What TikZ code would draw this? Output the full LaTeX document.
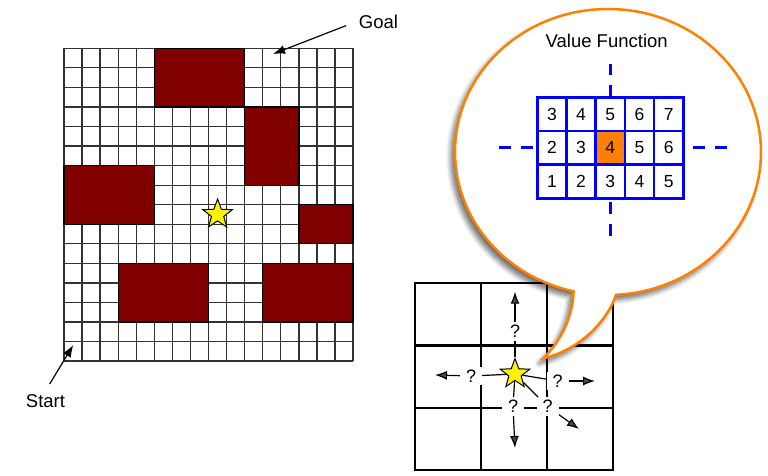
\documentclass[tikz,border=0pt]{standalone}
\usepackage{fontspec}
\setmainfont{Liberation Sans}
\usepackage{tikz}
\usepackage{xcolor}
\usetikzlibrary{arrows.meta,shapes.geometric,shadows,shadows.blur}
\definecolor{wall}{RGB}{128,0,0}
\definecolor{callout}{RGB}{255,128,0}

\begin{document}
\begin{tikzpicture}[x=1pt,y=-1pt,
  every node/.style={font=\fontsize{18.5}{20}\selectfont},
  thingrid/.style={draw=black!80,line width=1.3pt},
  thickgrid/.style={draw=black,line width=2.3pt,line cap=rect},
  wallbox/.style={fill=wall,draw=black,line width=1.3pt},
  agent/.style={star,star points=5,star point ratio=2.4,minimum size=31pt,inner sep=0pt,fill=yellow,draw=black,line width=1pt},
  pointer/.style={-{Latex[length=12pt,width=9pt]},line width=1.2pt},
  qmark/.style={fill=white,inner xsep=6pt,inner ysep=3pt,font=\fontsize{18}{19}\selectfont},
  bubble/.style={fill=white,draw=callout,line width=2.5pt,
    blur shadow={shadow xshift=-4pt,shadow yshift=-5pt,shadow blur steps=8,shadow blur radius=5pt,shadow opacity=60}},
  bluegrid/.style={draw=blue,line width=2.6pt,line cap=rect},
  axisdash/.style={draw=blue,line width=2.8pt,dash pattern=on 12pt off 10pt},
  vcell/.style={font=\fontsize{17.5}{18}\selectfont}]
\useasboundingbox (0,0) rectangle (768,476);

% grid world, 16 x 16 cells
\begin{scope}[shift={(64,48.3)},x=18.07pt,y=-19.55pt]
\foreach \i in {0,...,16} {
  \draw[thingrid] (\i,0) -- (\i,16);
  \draw[thingrid] (0,\i) -- (16,\i);
}
\draw[wallbox] (5,0) rectangle (10,3);
\draw[wallbox] (10,3) rectangle (13,7);
\draw[wallbox] (0,6) rectangle (5,9);
\draw[wallbox] (13,8) rectangle (16,10);
\draw[wallbox] (3,11) rectangle (8,14);
\draw[wallbox] (11,11) rectangle (16,14);
\node[agent] (agent) at (8.5,8.5) {};
\coordinate (goalcell) at (11.57,0.29);
\coordinate (startcell) at (0.51,15.18);
\end{scope}

\node (goal) at (378.5,22) {Goal};
\node (start) at (45.5,401) {Start};
\draw[pointer,shorten <=10pt] (goal.west) -- (goalcell);
\draw[pointer,shorten <=8pt] (start.north) -- (startcell);

% zoomed neighbourhood, 3 x 3
\begin{scope}[shift={(415,283.3)},x=66pt,y=-62.2pt]
\foreach \i in {0,...,3} {
  \draw[thickgrid] (\i,0) -- (\i,3);
  \draw[thickgrid] (0,\i) -- (3,\i);
}
\end{scope}

% callout
\filldraw[bubble] (608,152) ++(103:153 and 143)
  .. controls (573,315) and (562,340) .. (543.3,358.3)
  .. controls (580,350) and (608,320) .. (616,294.8)
  arc[start angle=87,end angle=-257,x radius=153,y radius=143] -- cycle;
\node (vftitle) at (606.7,40.7) {Value Function};

\begin{scope}[shift={(537.3,97.3)},x=29.2pt,y=-33.67pt]
\fill[callout] (2,1) rectangle (3,2);
\foreach \i in {0,...,5} \draw[bluegrid] (\i,0) -- (\i,3);
\foreach \i in {0,...,3} \draw[bluegrid] (0,\i) -- (5,\i);
\foreach \r/\vals in {0/{3,4,5,6,7},1/{2,3,4,5,6},2/{1,2,3,4,5}}
  \foreach \v [count=\c from 0] in \vals
    \node[vcell] (v\r\c) at (\c+0.5,\r+0.5) {\v};
\draw[axisdash] (2.5,0) -- (2.5,-1);
\draw[axisdash] (2.5,3.1) -- (2.5,4.2);
\draw[axisdash] (-0.14,1.5) -- (-1.36,1.5);
\draw[axisdash] (5.34,1.5) -- (6.58,1.5);
\end{scope}

% possible moves
\node[agent] (agentS) at (515,374) {};
\node[qmark] (qN) at (515,331.7) {?};
\node[qmark] (qW) at (471,376) {?};
\node[qmark] (qE) at (557.7,381) {?};
\node[qmark] (qS) at (513,406.7) {?};
\node[qmark] (qSE) at (547.7,406.7) {?};
\coordinate (tipN) at (515,291.7);
\coordinate (tipW) at (435,375);
\coordinate (tipE) at (595,381);
\coordinate (tipS) at (515,448);
\coordinate (tipSE) at (579,429);
\draw[line width=1.2pt] (agentS) -- (qN);
\draw[line width=1.2pt] (agentS) -- (qW);
\draw[line width=1.2pt] (agentS) -- (qE);
\draw[line width=1.2pt] (agentS) -- (qS);
\draw[line width=1.2pt] (agentS) -- (qSE);
\draw[pointer] (qN) -- (tipN);
\draw[pointer] (qW) -- (tipW);
\draw[pointer] (qE) -- (tipE);
\draw[pointer] (qS) -- (tipS);
\draw[pointer] (qSE) -- (tipSE);
\end{tikzpicture}
\end{document}
